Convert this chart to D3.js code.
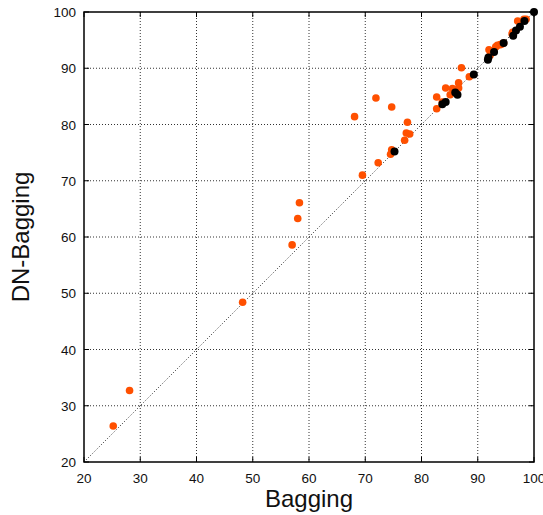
<!DOCTYPE html>
<html>
<head>
<meta charset="utf-8">
<script src="https://cdn.jsdelivr.net/npm/d3@7"></script>
<style>
  body { margin: 0; background: #fff; }
  text { font-family: "Liberation Sans", Arial, sans-serif; fill: #111; }
</style>
</head>
<body>
<svg id="chart" width="543" height="515"></svg>
<script>
// Tick values for both axes
const ticks = [20, 30, 40, 50, 60, 70, 80, 90, 100];

// Orange series (Bagging vs DN-Bagging)
const orangeX = [97.1, 98.2, 98.6, 96.2, 96.1, 94.6, 94.0, 93.5, 93.2, 94.3, 92.0, 92.2,
  87.1, 88.5, 86.6, 86.6, 84.3, 85.5, 85.1, 82.7, 83.7, 82.7, 71.9, 74.7, 68.1,
  77.5, 77.3, 77.9, 77.0, 74.7, 74.5, 72.3, 69.5, 58.3, 58.0, 57.0, 48.2, 28.1, 25.2];
const orangeY = [98.4, 98.7, 98.7, 96.4, 96.1, 94.5, 94.2, 94.1, 93.8, 94.3, 93.3, 92.3,
  90.1, 88.5, 87.4, 86.5, 86.5, 86.4, 85.3, 84.9, 84.0, 82.8, 84.7, 83.1, 81.4,
  80.4, 78.5, 78.3, 77.2, 75.5, 74.7, 73.2, 71.0, 66.1, 63.3, 58.6, 48.4, 32.7, 26.4];

// Black series
const blackX = [100, 98.3, 97.5, 96.8, 96.3, 94.6, 92.9, 91.9, 91.8, 89.3, 86.0, 86.4, 84.3, 83.7, 75.2];
const blackY = [100, 98.4, 97.4, 96.7, 95.8, 94.5, 92.9, 91.9, 91.5, 88.9, 85.7, 85.3, 84.0, 83.6, 75.2];

const margin = { top: 12, left: 84 };
const size = 450;

const svg = d3.select('#chart');
const g = svg.append('g').attr('transform', `translate(${margin.left},${margin.top})`);

const x = d3.scaleLinear().domain([20, 100]).range([0, size]);
const y = d3.scaleLinear().domain([20, 100]).range([size, 0]);

// Dotted grid
g.selectAll('.vgrid').data(ticks.slice(1, -1)).enter().append('line')
  .attr('x1', d => x(d)).attr('x2', d => x(d))
  .attr('y1', 0).attr('y2', size)
  .attr('stroke', '#333').attr('stroke-width', 1).attr('stroke-dasharray', '1,2');
g.selectAll('.hgrid').data(ticks.slice(1, -1)).enter().append('line')
  .attr('y1', d => y(d)).attr('y2', d => y(d))
  .attr('x1', 0).attr('x2', size)
  .attr('stroke', '#333').attr('stroke-width', 1).attr('stroke-dasharray', '1,2');

// Diagonal reference
g.append('line')
  .attr('x1', x(20)).attr('y1', y(20)).attr('x2', x(100)).attr('y2', y(100))
  .attr('stroke', '#222').attr('stroke-width', 1).attr('stroke-dasharray', '1,2');

// Inward ticks on all four sides
const tickLen = 5;
ticks.forEach(t => {
  g.append('line').attr('x1', x(t)).attr('x2', x(t)).attr('y1', size).attr('y2', size - tickLen).attr('stroke', '#000');
  g.append('line').attr('x1', x(t)).attr('x2', x(t)).attr('y1', 0).attr('y2', tickLen).attr('stroke', '#000');
  g.append('line').attr('y1', y(t)).attr('y2', y(t)).attr('x1', 0).attr('x2', tickLen).attr('stroke', '#000');
  g.append('line').attr('y1', y(t)).attr('y2', y(t)).attr('x1', size).attr('x2', size - tickLen).attr('stroke', '#000');
});

// Tick labels
g.selectAll('.xlab').data(ticks).enter().append('text')
  .attr('x', d => x(d)).attr('y', size + 21)
  .attr('text-anchor', 'middle').attr('font-size', 13.5).text(d => d);
g.selectAll('.ylab').data(ticks).enter().append('text')
  .attr('x', -8).attr('y', d => y(d) + 5)
  .attr('text-anchor', 'end').attr('font-size', 13.5).text(d => d);

// Points: orange first, black on top
g.selectAll('.orange').data(orangeX).enter().append('circle')
  .attr('cx', d => x(d)).attr('cy', (d, i) => y(orangeY[i]))
  .attr('r', 3.8).attr('fill', '#ff5000');
g.selectAll('.black').data(blackX).enter().append('circle')
  .attr('cx', d => x(d)).attr('cy', (d, i) => y(blackY[i]))
  .attr('r', 4).attr('fill', '#000');

// Frame
g.append('rect').attr('width', size).attr('height', size)
  .attr('fill', 'none').attr('stroke', '#000').attr('stroke-width', 1.5);

// Axis titles
svg.append('text').attr('x', margin.left + size / 2).attr('y', 507)
  .attr('text-anchor', 'middle').attr('font-size', 24).text('Bagging');
svg.append('text').attr('transform', `translate(29,${margin.top + size / 2}) rotate(-90)`)
  .attr('text-anchor', 'middle').attr('font-size', 24).text('DN-Bagging');
</script>
</body>
</html>
